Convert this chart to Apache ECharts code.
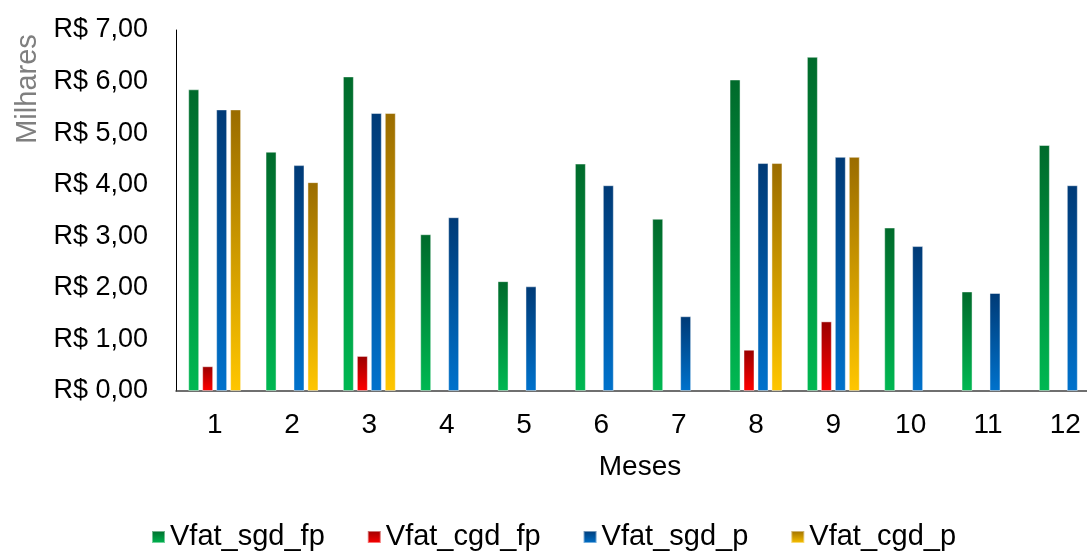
<!DOCTYPE html>
<html>
<head>
<meta charset="utf-8">
<title>Vfat por mês</title>
<script src="https://cdn.jsdelivr.net/npm/echarts@6/dist/echarts.min.js"></script>
<style>
  html, body { margin: 0; padding: 0; background: #ffffff; }
  #chart { width: 1087px; height: 553px; }
</style>
</head>
<body>
<div id="chart"></div>
<script>
// Months on the category axis
const meses = ['1', '2', '3', '4', '5', '6', '7', '8', '9', '10', '11', '12'];

// Monthly values, in thousands of R$ (null = no bar that month)
const vfatSgdFp = [5.85, 4.64, 6.10, 3.04, 2.13, 4.41, 3.34, 6.04, 6.48, 3.17, 1.93, 4.77];
const vfatCgdFp = [0.48, null, 0.68, null, null, null, null, 0.80, 1.35, null, null, null];
const vfatSgdP  = [5.46, 4.38, 5.39, 3.37, 2.03, 3.99, 1.45, 4.42, 4.54, 2.81, 1.90, 3.99];
const vfatCgdP  = [5.46, 4.05, 5.39, null, null, null, null, 4.42, 4.54, null, null, null];

// Value-axis tick labels, from 0 to 7
const yTickLabels = ['R$ 0,00', 'R$ 1,00', 'R$ 2,00', 'R$ 3,00', 'R$ 4,00', 'R$ 5,00', 'R$ 6,00', 'R$ 7,00'];

const FONT = '"Liberation Sans", Arial, sans-serif';

function grad(top, bottom) {
  return new echarts.graphic.LinearGradient(0, 0, 0, 1, [
    { offset: 0, color: top },
    { offset: 1, color: bottom }
  ]);
}

function barSeries(name, data, top, bottom) {
  return {
    name: name,
    type: 'bar',
    data: data,
    barWidth: 11,
    barGap: '27%',
    barCategoryGap: '30%',
    itemStyle: {
      color: grad(top, bottom),
      borderColor: 'rgba(255,255,255,0.45)',
      borderWidth: 1
    },
    emphasis: { disabled: true }
  };
}

const chart = echarts.init(document.getElementById('chart'), null, { renderer: 'canvas' });

chart.setOption({
  animation: false,
  backgroundColor: '#ffffff',
  textStyle: { fontFamily: FONT },
  // the plot runs a little past the right edge of the canvas
  grid: {
    left: 176, top: 30, width: 928, bottom: 162,
    containLabel: false,
    outerBoundsMode: 'none'
  },
  legend: {
    left: 151,
    top: 522,
    padding: 0,
    icon: 'rect',
    itemWidth: 13,
    itemHeight: 12,
    itemGap: 42,
    textStyle: { fontFamily: FONT, fontSize: 29, lineHeight: 30, color: '#000000' },
    data: ['Vfat_sgd_fp', 'Vfat_cgd_fp', 'Vfat_sgd_p', 'Vfat_cgd_p']
  },
  xAxis: {
    type: 'category',
    data: meses,
    name: 'Meses',
    nameLocation: 'middle',
    nameGap: 62,
    nameTextStyle: { fontFamily: FONT, fontSize: 28, color: '#000000' },
    axisLine: { show: true, lineStyle: { color: '#404040', width: 1.5 } },
    axisTick: { show: false },
    axisLabel: { fontFamily: FONT, fontSize: 28, color: '#000000', margin: 20 },
    splitLine: { show: false }
  },
  yAxis: {
    type: 'value',
    min: 0,
    max: 7,
    interval: 1,
    axisLine: { show: true, lineStyle: { color: '#000000', width: 1 } },
    axisTick: { show: false },
    splitLine: { show: false },
    axisLabel: {
      fontFamily: FONT,
      fontSize: 27,
      color: '#000000',
      margin: 28,
      formatter: function (value, index) { return yTickLabels[index]; }
    }
  },
  graphic: [{
    type: 'text',
    x: 28,
    y: 89,
    rotation: Math.PI / 2,
    style: {
      text: 'Milhares',
      font: '29px ' + FONT,
      fill: '#7f7f7f',
      align: 'center',
      verticalAlign: 'middle'
    }
  }],
  series: [
    barSeries('Vfat_sgd_fp', vfatSgdFp, '#006a2b', '#00b852'),
    barSeries('Vfat_cgd_fp', vfatCgdFp, '#9a0000', '#ff0000'),
    barSeries('Vfat_sgd_p', vfatSgdP, '#003a76', '#0072cc'),
    barSeries('Vfat_cgd_p', vfatCgdP, '#9a6c00', '#ffc600')
  ]
});
</script>
</body>
</html>
